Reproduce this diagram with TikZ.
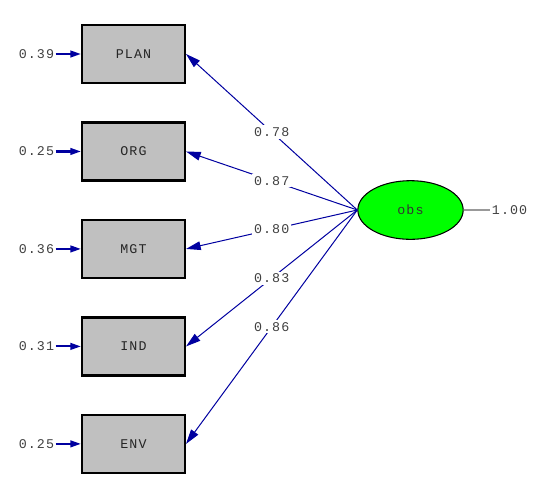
\documentclass[tikz,border=0pt]{standalone}
\usepackage{fontspec}
\newfontfamily\lisfont[LetterSpace=8]{Liberation Mono}
\definecolor{pathblue}{RGB}{0,0,160}
\definecolor{boxgray}{RGB}{192,192,192}
\definecolor{latgreen}{RGB}{0,255,0}
\colorlet{coefgray}{black!75}
\usetikzlibrary{positioning, arrows.meta, shapes.geometric}

\begin{document}
\begin{tikzpicture}[
    x=0.75pt, y=-0.75pt,
    obsvar/.style={draw=black, line width=1.8pt, fill=boxgray, minimum width=77pt,
      minimum height=43.5pt, inner sep=0pt, font=\lisfont, text=black!85},
    latvar/.style={ellipse, draw=black, line width=0.8pt, fill=latgreen,
      minimum width=79pt, minimum height=44pt, inner sep=0pt, font=\lisfont, text=black!80},
    coef/.style={fill=white, inner sep=1.5pt, font=\lisfont, text=coefgray},
    errval/.style={inner sep=1pt, font=\lisfont, text=coefgray},
    load/.style={draw=pathblue, line width=0.75pt, -{Triangle[length=11pt, width=6.5pt]}},
    errpath/.style={draw=pathblue, line width=1.6pt, -{Triangle[length=8pt, width=5pt]}},
    node distance=27.8pt,
  ]
    \useasboundingbox (0,0) rectangle (542,497);
    % observed variables
    \node[obsvar] (plan) at (133.5,54) {PLAN};
    \node[obsvar, below=of plan] (org) {ORG};
    \node[obsvar, below=of org] (mgt) {MGT};
    \node[obsvar, below=of mgt] (ind) {IND};
    \node[obsvar, below=of ind] (env) {ENV};
    % latent variable
    \node[latvar] (obs) at (410.5,210) {obs};
    \node[errval, right=20pt of obs] (vobs) {1.00};
    \draw[black!40, line width=0.8pt] (obs) -- (vobs);
    % error variances
    \foreach \v/\e in {plan/0.39, org/0.25, mgt/0.36, ind/0.31, env/0.25}{
      \node[errval, left=19pt of \v] (e\v) {\e};
      \draw[errpath] (e\v) -- (\v);
    }
    % loadings
    \draw[load] (obs.west) -- node[coef] {0.78} (plan.east);
    \draw[load] (obs.west) -- node[coef] {0.87} (org.east);
    \draw[load] (obs.west) -- node[coef] {0.80} (mgt.east);
    \draw[load] (obs.west) -- node[coef] {0.83} (ind.east);
    \draw[load] (obs.west) -- node[coef] {0.86} (env.east);
  \end{tikzpicture}
\end{document}
